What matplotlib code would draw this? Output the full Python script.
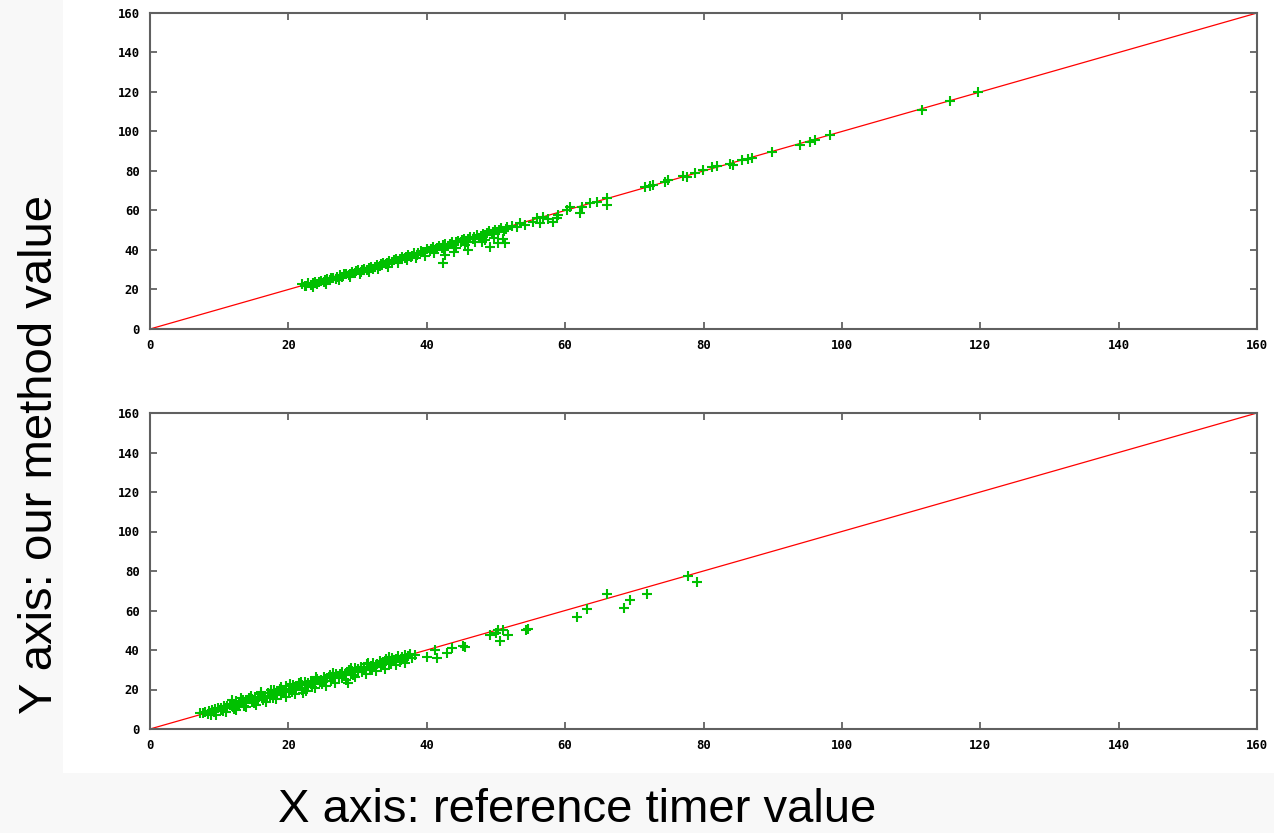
import numpy as np
import matplotlib.pyplot as plt
from matplotlib.patches import Rectangle

# reference line y = x
ref_x = [0, 160]
ref_y = [0, 160]

# top panel: (reference timer, our method)
top_x = [22.0, 22.9, 23.8, 24.7, 25.6, 26.5, 27.4, 28.3, 29.2, 30.1, 31.0, 31.9, 32.8, 33.7, 34.6, 35.5, 36.4,
         37.3, 38.2, 39.1, 40.0, 40.9, 41.8, 42.7, 43.6, 44.5, 45.4, 46.3, 47.2, 48.1, 49.0, 49.9, 50.8, 51.6,
         22.4, 23.3, 24.2, 25.1, 26.0, 26.9, 27.8, 28.7, 29.6, 30.5, 31.4, 32.3, 33.2, 34.1, 35.0, 35.9, 36.8,
         37.7, 38.6, 39.5, 40.4, 41.3, 42.2, 43.1, 44.0, 44.9, 45.8, 46.7, 47.6, 48.5, 49.4, 50.3, 51.2,
         23.6, 25.5, 27.3, 28.9, 30.3, 31.7, 33.0, 34.4, 35.8, 37.2, 38.5, 39.8, 41.0, 42.5, 44.2, 45.6, 47.0,
         48.4, 49.7, 51.0,
         22.6, 23.5, 24.4, 25.3, 26.2, 27.1, 28.0, 28.9, 29.8, 30.7, 31.6, 32.5, 33.4, 34.3, 35.2, 36.1, 37.0,
         37.9, 38.8, 39.7, 40.6, 41.5, 42.4, 43.3, 44.2, 45.1, 46.0, 46.9, 47.8, 48.7, 49.6, 50.5, 51.4,
         42.3, 42.6, 44.0, 46.0, 49.1, 50.3, 51.3, 48.0,
         52.3, 53.5, 53.0, 54.2, 55.3, 55.9, 56.4, 56.8, 57.5, 58.2, 58.8, 59.0, 60.3, 60.7, 62.1, 62.4, 63.6,
         64.6, 66.0, 66.0,
         71.5, 72.3, 72.7, 74.4, 74.8, 77.0, 77.6, 78.7, 79.9, 81.2, 81.9, 83.8, 84.2, 85.5, 86.4, 87.0, 89.9,
         93.9, 95.4, 96.1, 98.3, 111.6, 115.6, 119.7]
top_y = [22.6, 23.1, 23.9, 24.5, 25.4, 26.0, 27.1, 27.9, 28.8, 29.7, 30.4, 31.5, 32.3, 33.6, 34.5, 35.6, 36.4,
         37.4, 38.3, 39.5, 40.6, 41.3, 42.2, 43.1, 43.8, 44.6, 45.7, 46.4, 47.5, 48.3, 49.4, 50.2, 50.9, 51.5,
         21.7, 22.3, 22.8, 23.9, 24.6, 25.4, 26.5, 27.2, 28.5, 28.9, 30.1, 30.6, 31.7, 32.9, 33.8, 34.6, 35.9,
         36.7, 37.6, 38.8, 39.6, 40.5, 41.0, 42.2, 42.6, 43.8, 44.3, 45.6, 46.2, 47.4, 47.9, 49.0, 49.8,
         21.2, 23.0, 24.9, 26.4, 27.8, 29.0, 30.4, 31.6, 33.2, 34.7, 36.0, 37.2, 38.4, 39.8, 41.1, 42.4, 43.9,
         45.1, 46.3, 45.5,
         22.0, 23.4, 23.6, 24.9, 25.7, 26.3, 27.6, 28.1, 29.4, 29.8, 31.0, 31.6, 33.0, 33.5, 34.9, 35.3, 36.6,
         37.2, 38.5, 39.0, 40.3, 41.0, 42.3, 42.8, 44.0, 44.9, 45.8, 46.8, 47.3, 48.6, 49.1, 50.3, 50.6,
         33.4, 37.5, 39.0, 40.0, 41.5, 43.5, 43.5, 44.0,
         52.0, 53.7, 51.5, 52.9, 54.2, 56.2, 53.7, 56.5, 55.6, 54.2, 56.2, 57.7, 60.3, 61.8, 58.7, 61.8, 63.8,
         64.3, 66.3, 62.8,
         71.9, 72.6, 72.9, 74.4, 75.4, 77.5, 77.2, 79.0, 80.5, 82.0, 82.5, 83.5, 83.0, 85.6, 86.0, 86.6, 89.6,
         93.2, 94.7, 95.7, 98.2, 110.9, 115.6, 120.0]

# bottom panel
bot_x = [7.2, 8.0, 8.9, 9.8, 10.7, 11.6, 12.5, 13.4, 14.3, 15.2, 16.1, 17.0, 17.9, 18.8, 19.7, 20.6, 21.5,
         22.4, 23.3, 24.2, 25.1, 26.0, 26.9, 27.8, 28.7, 29.6, 30.5, 31.4, 32.3, 33.2, 34.1, 35.0, 35.9, 36.8, 37.6,
         8.4, 9.3, 10.2, 11.1, 12.0, 12.9, 13.8, 14.7, 15.6, 16.5, 17.4, 18.3, 19.2, 20.1, 21.0, 21.9, 22.8,
         23.7, 24.6, 25.5, 26.4, 27.3, 28.2, 29.1, 30.0, 30.9, 31.8, 32.7, 33.6, 34.5, 35.4, 36.3, 37.2,
         9.5, 11.0, 12.4, 13.9, 15.3, 16.8, 18.2, 19.6, 21.0, 22.5, 23.9, 25.4, 26.8, 28.3, 29.7, 31.2, 32.6,
         34.0, 35.5, 36.9,
         11.8, 13.2, 14.6, 16.0, 17.5, 18.9, 20.3, 21.8, 24.0, 26.5, 29.0, 31.5, 34.5,
         7.6, 8.5, 9.4, 10.3, 11.2, 12.1, 13.0, 13.9, 14.8, 15.7, 16.6, 17.5, 18.4, 19.3, 20.2, 21.1, 22.0,
         22.9, 23.8, 24.7, 25.6, 26.5, 27.4, 28.3, 29.2, 30.1, 31.0, 31.9, 32.8, 33.7, 34.6, 35.5, 36.4, 37.3,
         8.8, 10.6, 12.2, 13.6, 15.0, 16.4, 17.8, 19.0, 20.5, 21.9, 23.4, 24.8, 26.2, 27.7, 29.3, 30.6, 32.1,
         33.4, 34.8, 36.2, 37.8,
         28.6, 22.1,
         38.3, 40.0, 41.2, 41.5, 42.9, 43.6, 45.5, 45.3, 49.1, 50.3, 50.6, 51.0, 51.7, 50.0, 54.6, 54.4, 61.7,
         63.2, 66.0, 68.5, 69.4, 71.8, 77.7, 79.0]
bot_y = [8.1, 8.6, 9.6, 10.6, 11.8, 12.9, 14.1, 14.8, 15.6, 16.4, 17.8, 18.3, 19.5, 20.4, 21.8, 22.4, 23.1,
         23.6, 24.5, 25.3, 26.2, 27.4, 28.0, 28.9, 29.8, 30.7, 31.6, 32.8, 33.5, 34.6, 35.2, 35.9, 36.8, 37.3, 37.9,
         7.8, 8.5, 9.6, 10.4, 11.3, 12.1, 13.0, 13.8, 14.9, 15.6, 16.8, 17.5, 18.6, 19.3, 20.4, 21.0, 22.1,
         22.7, 23.9, 24.4, 25.6, 26.2, 27.4, 28.0, 29.1, 29.7, 30.9, 31.4, 32.6, 33.2, 34.3, 34.9, 35.8,
         7.2, 8.4, 9.6, 11.0, 12.3, 13.6, 15.0, 16.3, 17.8, 19.2, 20.7, 22.0, 23.5, 24.9, 26.4, 27.8, 29.3,
         30.6, 32.2, 33.5,
         14.6, 15.9, 16.9, 18.6, 19.9, 21.4, 22.9, 23.9, 26.4, 28.6, 30.9, 33.6, 36.4,
         7.9, 9.1, 9.9, 10.7, 11.6, 12.6, 13.4, 14.5, 15.0, 16.2, 16.8, 18.0, 18.6, 19.9, 20.5, 21.6, 22.3,
         23.2, 24.1, 24.9, 26.0, 26.7, 27.8, 28.5, 29.6, 30.2, 31.3, 32.0, 33.1, 33.8, 34.9, 35.4, 36.5, 37.0,
         7.0, 8.9, 10.3, 11.8, 13.1, 14.5, 15.9, 17.1, 18.5, 19.9, 21.5, 22.7, 24.3, 25.6, 27.2, 28.7, 30.0,
         31.5, 32.8, 34.1, 35.9,
         23.3, 18.2,
         37.5, 36.4, 40.0, 36.0, 38.5, 41.0, 41.5, 42.0, 47.6, 50.1, 44.6, 50.1, 47.6, 48.5, 50.6, 50.2, 56.7,
         60.8, 68.4, 61.3, 65.3, 68.4, 77.5, 74.4]

ticks = [0, 20, 40, 60, 80, 100, 120, 140, 160]

fig = plt.figure(figsize=(12.74, 8.33), dpi=100)
fig.patch.set_facecolor('#f8f8f8')
fig.add_artist(Rectangle((63 / 1274, 1 - 773 / 833), 1, 1, transform=fig.transFigure,
                         facecolor='white', edgecolor='none', zorder=-5))

ax1 = fig.add_axes([150 / 1274, 1 - 329 / 833, 1107 / 1274, 316 / 833])
ax2 = fig.add_axes([150 / 1274, 1 - 729 / 833, 1107 / 1274, 316 / 833])

for ax, xs, ys in [(ax1, top_x, top_y), (ax2, bot_x, bot_y)]:
    ax.set_zorder(1)
    ax.plot(ref_x, ref_y, color='#ff0000', lw=0.9, zorder=2)
    ax.plot(xs, ys, '+', color='#00c000', ms=6.5, mew=1.5, zorder=3)
    ax.set_xlim(0, 160)
    ax.set_ylim(0, 160)
    ax.set_xticks(ticks)
    ax.set_yticks(ticks)
    ax.tick_params(direction='in', length=5, width=1.2, color='#555555',
                   top=True, right=True, pad=7.5)
    for lab in ax.get_xticklabels() + ax.get_yticklabels():
        lab.set_family('DejaVu Sans Mono')
        lab.set_weight('bold')
        lab.set_fontsize(8.8)
    for s in ax.spines.values():
        s.set_color('#606060')
        s.set_linewidth(1.5)

fig.text(40 / 1274, 1 - 455 / 833, 'Y axis: our method value', rotation=90,
         ha='center', va='center', fontsize=34, family='Liberation Sans')
fig.text(577 / 1274, 1 - 810 / 833, 'X axis: reference timer value',
         ha='center', va='center', fontsize=34, family='Liberation Sans')

fig.savefig('out.png', dpi=100)
